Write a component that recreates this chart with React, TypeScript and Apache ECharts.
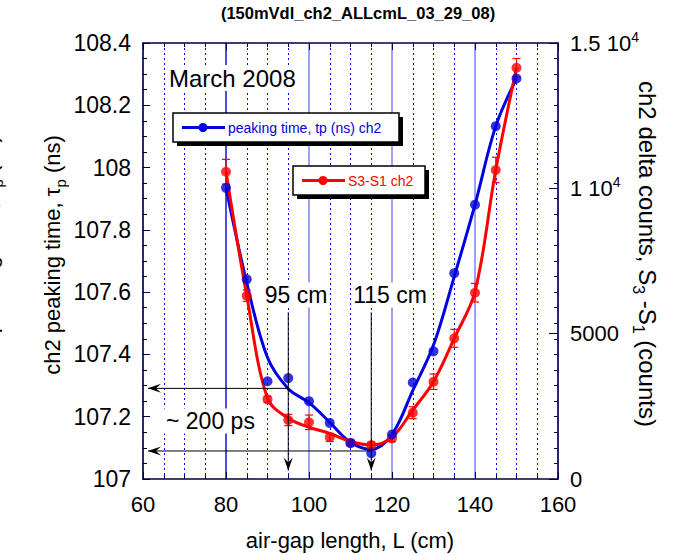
import React, { useEffect, useRef } from 'react';
import * as echarts from 'echarts';

const gapLengths = [80, 85, 90, 95, 100, 105, 110, 115, 120, 125, 130, 135, 140, 145, 150];
const peakingTime = [107.935, 107.641, 107.314, 107.324, 107.25, 107.18, 107.115, 107.083, 107.143, 107.31, 107.41, 107.661, 107.881, 108.133, 108.286];
const peakingFit = [107.935, 107.63, 107.39, 107.29, 107.245, 107.182, 107.118, 107.095, 107.143, 107.284, 107.43, 107.65, 107.881, 108.133, 108.286];
const deltaCounts = [10571, 6306, 2741, 2030, 1950, 1434, 1249, 1170, 1400, 2281, 3347, 4840, 6409, 10630, 14149];
const deltaFit = [10571, 6306, 2775, 2088, 1780, 1570, 1290, 1170, 1434, 2374, 3347, 4840, 6443, 10630, 14149];
const deltaErr = [425, 195, 100, 195, 250, 140, 100, 100, 115, 205, 265, 310, 320, 440, 320];

const xTickLabels = ['60', '80', '100', '120', '140', '160'];
const leftTickLabels = ['107', '107.2', '107.4', '107.6', '107.8', '108', '108.2', '108.4'];
const rightTickLabels = ['0', '5000', '1 10{sup|4}', '1.5 10{sup|4}'];

const arrowMarks = [
  { at: 95, level: 107.291 },
  { at: 115, level: 107.09 },
];
const arrowTop = 107.535;
const arrowBottom = 107.027;
const arrowLeft = 61.2;

const FONT = '"Liberation Sans", Arial, Helvetica, sans-serif';
const FRAME = '#000040';

export default function App() {
  const ref = useRef<HTMLDivElement>(null);

  useEffect(() => {
    if (!ref.current) return;
    const chart = echarts.init(ref.current, undefined, { renderer: 'svg' });

    const tickStyle = { color: FRAME, width: 1 };
    const option: any = {
      animation: false,
      backgroundColor: '#fff',
      textStyle: { fontFamily: FONT },
      grid: { left: 143, right: 115, top: 43, bottom: 76, containLabel: false },
      xAxis: [
        {
          type: 'value', min: 60, max: 160, interval: 20, position: 'bottom',
          axisLine: { show: true, onZero: false, lineStyle: { color: FRAME, width: 1.5 } },
          axisTick: { show: true, inside: true, length: 7, lineStyle: tickStyle },
          minorTick: { show: true, splitNumber: 4, length: 4, lineStyle: tickStyle },
          splitLine: { show: true, lineStyle: { color: ['#8080f0', '#1010d0', '#8080f0', '#8080f0', '#8080f0', '#8080f0'], width: 1.5 } },
          minorSplitLine: { show: true, lineStyle: { color: '#0000ff', type: [2, 3], width: 1 } },
          axisLabel: {
            fontSize: 22, margin: 14, color: '#000', fontFamily: FONT,
            formatter: (v: number) => xTickLabels[Math.round((v - 60) / 20)] ?? '',
          },
        },
        {
          type: 'value', min: 60, max: 160, interval: 20, position: 'top',
          axisLine: { show: true, onZero: false, lineStyle: { color: FRAME, width: 1.5 } },
          axisTick: { show: true, inside: true, length: 7, lineStyle: tickStyle },
          minorTick: { show: true, splitNumber: 4, length: 4, lineStyle: tickStyle },
          splitLine: { show: false },
          axisLabel: { show: false },
        },
      ],
      yAxis: [
        {
          type: 'value', min: 107, max: 108.4, interval: 0.2, position: 'left',
          axisLine: { show: true, onZero: false, lineStyle: { color: FRAME, width: 1.5 } },
          axisTick: { show: true, inside: true, length: 7, lineStyle: tickStyle },
          minorTick: { show: true, splitNumber: 4, length: 4, lineStyle: tickStyle },
          splitLine: { show: false },
          axisLabel: {
            fontSize: 23, margin: 12, color: '#000', fontFamily: FONT,
            formatter: (v: number) => leftTickLabels[Math.round((v - 107) / 0.2)] ?? '',
          },
        },
        {
          type: 'value', min: 0, max: 15000, interval: 5000, position: 'right',
          axisLine: { show: true, onZero: false, lineStyle: { color: FRAME, width: 1.5 } },
          axisTick: { show: true, inside: true, length: 9, lineStyle: tickStyle },
          splitLine: { show: false },
          axisLabel: {
            fontSize: 22, margin: 12, color: '#000', fontFamily: FONT, lineHeight: 26,
            formatter: (v: number) => rightTickLabels[Math.round(v / 5000)] ?? '',
            rich: { sup: { fontSize: 14, verticalAlign: 'top', lineHeight: 14, fontFamily: FONT, color: '#000' } },
          },
        },
        {
          type: 'value', min: 107, max: 108.4, interval: 0.2, position: 'right',
          axisLine: { show: false },
          axisTick: { show: true, inside: true, length: 4, lineStyle: tickStyle },
          minorTick: { show: true, splitNumber: 4, length: 4, lineStyle: tickStyle },
          splitLine: { show: false },
          axisLabel: { show: false },
        },
      ],
      series: [
        {
          name: 'peaking fit', type: 'line', xAxisIndex: 0, yAxisIndex: 0,
          data: gapLengths.map((x, i) => [x, peakingFit[i]]),
          smooth: 0.35, showSymbol: false, symbol: 'none',
          lineStyle: { color: '#0000e0', width: 3 }, z: 3,
        },
        {
          name: 'delta fit', type: 'line', xAxisIndex: 0, yAxisIndex: 1,
          data: gapLengths.map((x, i) => [x, deltaFit[i]]),
          smooth: 0.35, showSymbol: false, symbol: 'none',
          lineStyle: { color: '#ff0000', width: 3 }, z: 4,
        },
        {
          name: 'delta err', type: 'custom', xAxisIndex: 0, yAxisIndex: 1,
          data: gapLengths.map((x, i) => [x, deltaCounts[i] - deltaErr[i], deltaCounts[i] + deltaErr[i]]),
          renderItem: (params: any, api: any) => {
            const lo = api.coord([api.value(0), api.value(1)]);
            const hi = api.coord([api.value(0), api.value(2)]);
            const w = 4;
            const st = { stroke: '#ff0000', lineWidth: 1.2 };
            return {
              type: 'group',
              children: [
                { type: 'line', shape: { x1: lo[0], y1: lo[1], x2: hi[0], y2: hi[1] }, style: st },
                { type: 'line', shape: { x1: lo[0] - w, y1: lo[1], x2: lo[0] + w, y2: lo[1] }, style: st },
                { type: 'line', shape: { x1: hi[0] - w, y1: hi[1], x2: hi[0] + w, y2: hi[1] }, style: st },
              ],
            };
          },
          z: 5,
        },
        {
          name: 'S3-S1 ch2', type: 'scatter', xAxisIndex: 0, yAxisIndex: 1,
          data: gapLengths.map((x, i) => [x, deltaCounts[i]]),
          symbol: 'circle', symbolSize: 10, itemStyle: { color: '#ff0000' }, z: 6,
        },
        {
          name: 'peaking time, tp (ns) ch2', type: 'scatter', xAxisIndex: 0, yAxisIndex: 0,
          data: gapLengths.map((x, i) => [x, peakingTime[i]]),
          symbol: 'circle', symbolSize: 10, itemStyle: { color: '#0000e0' }, z: 7,
        },
      ],
    };
    chart.setOption(option);

    const px = (x: number, y: number) => chart.convertToPixel({ xAxisIndex: 0, yAxisIndex: 0 }, [x, y]) as number[];

    const graphics: any[] = [];
    arrowMarks.forEach((m) => {
      const top = px(m.at, arrowTop);
      const bot = px(m.at, arrowBottom);
      const lvl = px(m.at, m.level);
      const left = px(arrowLeft, m.level);
      graphics.push({ type: 'line', z: 20, shape: { x1: top[0], y1: top[1], x2: bot[0], y2: bot[1] }, style: { stroke: '#000', lineWidth: 1 } });
      graphics.push({ type: 'polygon', z: 20, shape: { points: [[bot[0], bot[1]], [bot[0] - 4.5, bot[1] - 13], [bot[0], bot[1] - 8], [bot[0] + 4.5, bot[1] - 13]] }, style: { fill: '#000' } });
      graphics.push({ type: 'line', z: 20, shape: { x1: lvl[0], y1: lvl[1], x2: left[0], y2: left[1] }, style: { stroke: '#000', lineWidth: 1 } });
      graphics.push({ type: 'polygon', z: 20, shape: { points: [[left[0], left[1]], [left[0] + 13, left[1] - 4.5], [left[0] + 8, left[1]], [left[0] + 13, left[1] + 4.5]] }, style: { fill: '#000' } });
    });

    const txt = (text: string, x: number, y: number, size: number, extra: any = {}) => ({
      type: 'text', x, y, z: 21,
      style: { text, fontSize: size, fontFamily: FONT, fill: '#000', align: 'left', verticalAlign: 'middle', ...extra },
    });

    graphics.push(txt('March 2008', 167, 78, 24, { backgroundColor: '#fff', padding: [1, 2] }));
    graphics.push(txt('95 cm', 296, 295, 23, { align: 'center', backgroundColor: '#fff', padding: [1, 2] }));
    graphics.push(txt('115 cm', 390, 295, 23, { align: 'center', backgroundColor: '#fff', padding: [1, 2] }));
    graphics.push(txt('~ 200 ps', 164, 421, 23, { backgroundColor: '#fff', padding: [1, 2] }));

    const legendBox = (x: number, y: number, w: number, h: number, color: string, label: string) => ({
      type: 'group', z: 22,
      children: [
        { type: 'rect', shape: { x: x + 4, y: y + 4, width: w, height: h }, style: { fill: '#000' } },
        { type: 'rect', shape: { x, y, width: w, height: h }, style: { fill: '#fff', stroke: '#000', lineWidth: 1.5 } },
        { type: 'line', shape: { x1: x + 9, y1: y + h / 2, x2: x + 52, y2: y + h / 2 }, style: { stroke: color, lineWidth: 3 } },
        { type: 'circle', shape: { cx: x + 30, cy: y + h / 2, r: 4.5 }, style: { fill: color } },
        { type: 'text', x: x + 55, y: y + h / 2, style: { text: label, fontSize: 14, fontFamily: FONT, fill: color, align: 'left', verticalAlign: 'middle' } },
      ],
    });
    graphics.push(legendBox(173, 113, 226, 29, '#0000e0', 'peaking time, tp (ns) ch2'));
    graphics.push(legendBox(293, 166, 132, 29, '#ff0000', 'S3-S1 ch2'));

    graphics.push(txt('(150mVdl_ch2_ALLcmL_03_29_08)', 358, 13, 16.5, { align: 'center', fontWeight: 'bold' }));
    graphics.push(txt('air-gap length, L (cm)', 350, 540, 22, { align: 'center' }));
    const subRich = { sub: { fontSize: 15, verticalAlign: 'bottom', lineHeight: 15, fontFamily: FONT, fill: '#000' } };
    const subRichBig = { sub: { fontSize: 16, verticalAlign: 'bottom', lineHeight: 16, fontFamily: FONT, fill: '#000' } };
    graphics.push({
      type: 'text', x: 52, y: 255, rotation: Math.PI / 2, z: 21,
      style: { text: 'ch2 peaking time, τ{sub|p} (ns)', rich: subRich, fontSize: 22, lineHeight: 32, fontFamily: FONT, fill: '#000', align: 'center', verticalAlign: 'middle' },
    });
    graphics.push({
      type: 'text', x: -11, y: 255, rotation: Math.PI / 2, z: 21,
      style: { text: 'ch1 peaking time, τ{sub|p} (ns)', rich: subRich, fontSize: 22, lineHeight: 32, fontFamily: FONT, fill: '#000', align: 'center', verticalAlign: 'middle' },
    });
    graphics.push({
      type: 'text', x: 647, y: 254, rotation: -Math.PI / 2, z: 21,
      style: { text: 'ch2 delta counts, S{sub|3} -S{sub|1} (counts)', rich: subRichBig, fontSize: 24, lineHeight: 34, fontFamily: FONT, fill: '#000', align: 'center', verticalAlign: 'middle' },
    });

    chart.setOption({ graphic: graphics });

    return () => chart.dispose();
  }, []);

  return <div ref={ref} style={{ width: 673, height: 555, position: 'absolute', left: 0, top: 0 }} />;
}
